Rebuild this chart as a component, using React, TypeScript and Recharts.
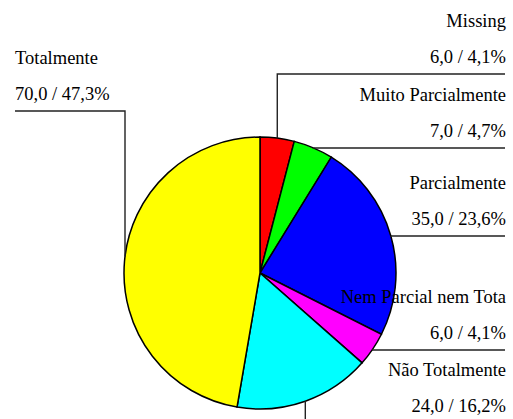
import React from 'react';
import { PieChart, Pie, Cell } from 'recharts';

const CATEGORIES = ['Missing', 'Muito Parcialmente', 'Parcialmente', 'Nem Parcial nem Tota', 'Não Totalmente', 'Totalmente'];
const COUNTS = [6, 7, 35, 6, 24, 70];
const COLORS = ['#ff0000', '#00ff00', '#0000ff', '#ff00ff', '#00ffff', '#ffff00'];

// where each label block sits: which side and the y of its underline
const LABEL_ROWS: { side: 'left' | 'right'; y: number }[] = [
  { side: 'right', y: 74 },
  { side: 'right', y: 148 },
  { side: 'right', y: 236 },
  { side: 'right', y: 350 },
  { side: 'right', y: 423 },
  { side: 'left', y: 111 },
];

const RIGHT_EDGE = 505;
const LEFT_EDGE = 15;
const FONT = '"Liberation Serif", "Times New Roman", serif';
const RAD = Math.PI / 180;

const data = CATEGORIES.map((name, i) => ({ name, value: COUNTS[i] }));

const fmt = (n: number) => n.toFixed(1).replace('.', ',');

const renderLabel = (props: any) => {
  const { cx, cy, midAngle, outerRadius, index, name, value, percent } = props;
  const row = LABEL_ROWS[index];
  const text = `${fmt(value)} / ${fmt(percent * 100)}%`;
  let points: string;
  let tx: number;
  let anchor: 'start' | 'end';
  if (row.side === 'right') {
    const ax = cx + outerRadius * Math.cos(-midAngle * RAD);
    const ay = cy + outerRadius * Math.sin(-midAngle * RAD);
    points = `${ax},${ay} ${ax},${row.y} ${RIGHT_EDGE},${row.y}`;
    tx = RIGHT_EDGE + 1;
    anchor = 'end';
  } else {
    const lx = cx - outerRadius + 1;
    const dx = outerRadius - 1;
    const ly = cy - Math.sqrt(outerRadius * outerRadius - dx * dx);
    points = `${LEFT_EDGE},${row.y} ${lx},${row.y} ${lx},${ly}`;
    tx = LEFT_EDGE;
    anchor = 'start';
  }
  return (
    <g key={`lbl-${index}`}>
      <polyline points={points} fill="none" stroke="#222" strokeWidth={1.4} />
      <text x={tx} y={row.y - 47} textAnchor={anchor} fontFamily={FONT} fontSize={18.5} fill="#000">
        {name}
      </text>
      <text x={tx} y={row.y - 11} textAnchor={anchor} fontFamily={FONT} fontSize={18.5} fill="#000">
        {text}
      </text>
    </g>
  );
};

export default function App() {
  return (
    <div style={{ position: 'absolute', left: 0, top: 0, background: '#fff' }}>
      <PieChart width={513} height={419} margin={{ top: 0, right: 0, bottom: 0, left: 0 }}>
        <Pie
          data={data}
          dataKey="value"
          nameKey="name"
          cx={260}
          cy={273}
          outerRadius={136}
          startAngle={90}
          endAngle={-270}
          stroke="#000"
          strokeWidth={1.5}
          label={renderLabel}
          labelLine={false}
          isAnimationActive={false}
        >
          {data.map((d, i) => (
            <Cell key={d.name} fill={COLORS[i]} />
          ))}
        </Pie>
      </PieChart>
    </div>
  );
}
